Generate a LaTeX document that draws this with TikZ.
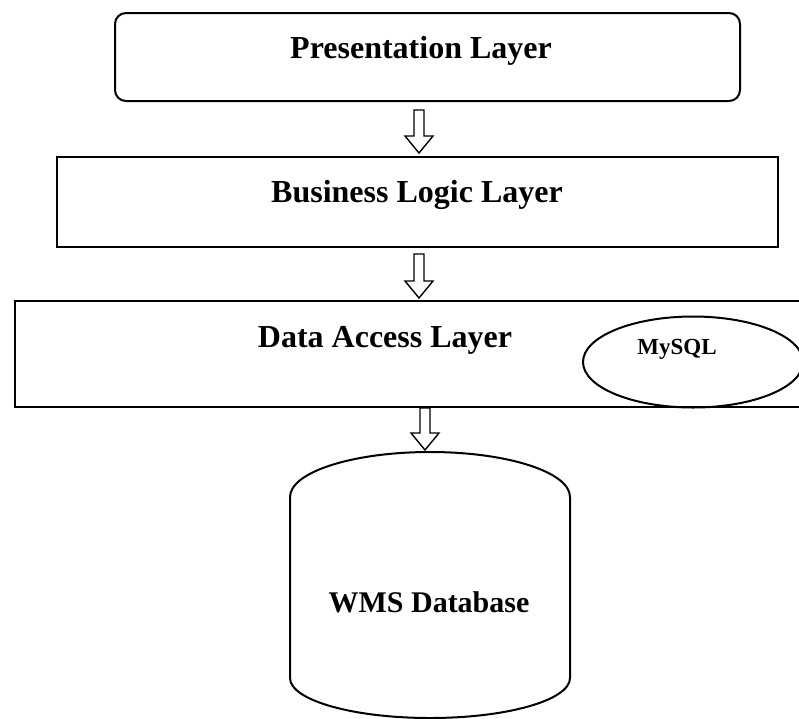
\documentclass[tikz,border=0pt]{standalone}
\usepackage{fontspec}
\setmainfont{Liberation Serif}
\usetikzlibrary{shapes.geometric}
\begin{document}
\begin{tikzpicture}[x=1pt,y=-1pt,
  layerbox/.style={draw,line width=2pt},
  barrow/.style={draw,line width=1.4pt,line join=miter,fill=white},
  lbl/.style={font=\fontsize{32}{36}\selectfont\bfseries,inner sep=0pt},
  dblbl/.style={font=\fontsize{30}{34}\selectfont\bfseries,inner sep=0pt},
  smlbl/.style={font=\fontsize{23}{26}\selectfont\bfseries,inner sep=0pt}]
\useasboundingbox (0,0) rectangle (799,718);
\clip (0,0) rectangle (799,718);
% layers
\draw[layerbox,rounded corners=11pt] (115,13) rectangle (740,101);
\node[lbl] (pres) at (421,51) {Presentation Layer};
\draw[layerbox] (57,157) rectangle (778,247);
\node[lbl] (bus) at (417,195) {Business Logic Layer};
\draw[layerbox] (15,301) rectangle (810,407);
\node[lbl] (dal) at (385,340) {Data Access Layer};
\node[draw,line width=2pt,ellipse,minimum width=220pt,minimum height=91pt] (mysqlE) at (693,362) {};
\node[smlbl] (mysql) at (677,349) {MySQL};
% cylinder
\draw[line width=2pt] (290,497) arc[start angle=180,end angle=360,x radius=140,y radius=45]
  -- (570,678) arc[start angle=0,end angle=180,x radius=140,y radius=40] -- cycle;
\node[dblbl] (wms) at (429,602) {WMS Database};
% block arrows
\coordinate (a1s) at (419,110); \coordinate (a1e) at (419,153);
\coordinate (a2s) at (419,254); \coordinate (a2e) at (419,298);
\coordinate (a3s) at (425,408); \coordinate (a3e) at (425,450);
\foreach \s/\e in {a1s/a1e,a2s/a2e,a3s/a3e}{
  \draw[barrow] ([xshift=-5pt]\s) -- ([xshift=5pt]\s) -- ([xshift=5pt,yshift=17pt]\e)
    -- ([xshift=14pt,yshift=17pt]\e) -- (\e) -- ([xshift=-14pt,yshift=17pt]\e)
    -- ([xshift=-5pt,yshift=17pt]\e) -- cycle;
}
\end{tikzpicture}
\end{document}
